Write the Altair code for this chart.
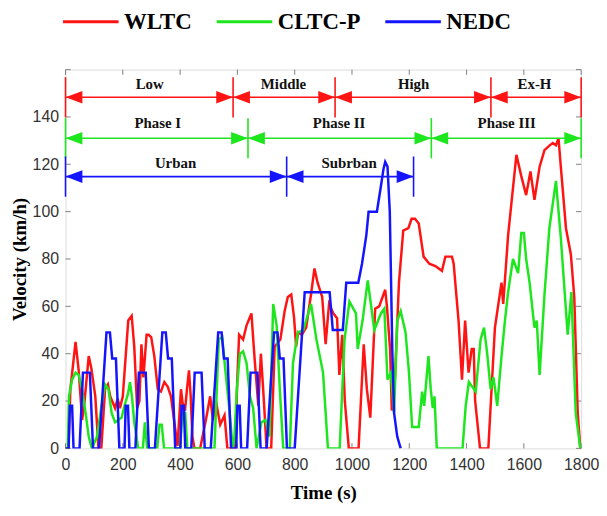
import altair as alt
import pandas as pd

# ---------------- data ----------------
wltc_t = [0, 10, 17, 35, 46, 58, 65, 81, 90, 104, 115, 125, 138, 148, 156, 173, 182, 190, 200,
          219, 231, 240, 250, 258, 265, 272, 283, 290, 299, 310, 322, 333, 345, 357, 368, 380,
          391, 403, 409, 417, 424, 431, 437, 443, 450, 470, 490, 505, 515, 525, 540, 555, 565,
          592, 600, 606, 620, 632, 649, 660, 673, 682, 690, 702, 718, 730, 750, 765, 776, 788,
          798, 805, 812, 825, 840, 857, 869, 880, 896, 908, 920, 935, 948, 956, 966, 975, 989,
          1023, 1041, 1052, 1064, 1081, 1095, 1104, 1116, 1122, 1133, 1139, 1150, 1164, 1179,
          1197, 1208, 1220, 1233, 1250, 1270, 1291, 1314, 1326, 1349, 1355, 1372, 1384, 1395,
          1407, 1418, 1425, 1430, 1447, 1476, 1499, 1522, 1528, 1545, 1574, 1591, 1608, 1623,
          1637, 1655, 1672, 1690, 1701, 1712, 1721, 1729, 1747, 1764, 1776, 1788, 1797]
wltc_v = [0, 0, 25, 45, 33, 12, 18, 39, 34, 22, 0, 0, 25, 27, 22, 17, 21, 17, 22,
          54, 56, 43, 17, 20, 44, 30, 48, 48, 47, 39, 25, 24, 28, 26, 22, 11,
          1, 25, 19, 16, 25, 33, 22, 5, 0, 0, 12, 22, 12, 20, 10, 14, 0,
          0, 30, 48, 46, 52, 57, 38, 18, 40, 25, 0, 0, 43, 46, 58, 64, 65,
          55, 43, 49, 48, 51, 65, 76, 70, 64, 44, 61, 57, 55, 31, 48, 20, 0,
          0, 44, 25, 13, 59, 60, 63, 67, 60, 42, 16, 30, 70, 92,
          93, 97, 97, 95, 81, 78, 77, 75, 81, 81, 78, 54, 29, 54,
          32, 42, 42, 20, 0, 0, 51, 70, 61, 90, 124, 115, 107, 117,
          105, 119, 126, 128, 129, 128, 131, 119, 93, 82, 64, 15, 0]

cltc_t = [0, 8, 12, 23, 35, 46, 58, 70, 81, 92, 110, 127, 138, 150, 161, 173, 184, 196, 206,
          218, 225, 232, 240, 254, 270, 277, 285, 320, 328, 336, 344, 400, 408, 418, 425, 520,
          535, 547, 558, 570, 584, 590, 598, 609, 620, 632, 644, 655, 667, 684, 698, 712, 725,
          737, 748, 760, 783, 794, 811, 830, 857, 876, 899, 916, 957, 974, 991, 1014, 1020,
          1037, 1055, 1066, 1078, 1101, 1113, 1124, 1136, 1147, 1158, 1170, 1187, 1199, 1210,
          1233, 1245, 1252, 1267, 1275, 1282, 1288, 1296, 1386, 1397, 1408, 1420, 1432, 1449,
          1461, 1472, 1484, 1494, 1507, 1522, 1534, 1545, 1562, 1580, 1591, 1600, 1608, 1620,
          1637, 1645, 1655, 1672, 1689, 1712, 1729, 1753, 1766, 1781, 1797]
cltc_v = [0, 0, 22, 29, 32, 31, 25, 15, 5, 0, 5, 19, 27, 25, 15, 11, 12, 13, 18,
          23, 28, 22, 11, 0, 0, 11, 0, 0, 10, 10, 0, 0, 15, 15, 0, 0,
          46, 47, 33, 19, 0, 5, 25, 40, 41, 36, 22, 17, 0, 11, 12, 5, 61,
          52, 25, 0, 0, 36, 49, 50, 61, 46, 32, 0, 0, 46, 62, 57, 42,
          54, 71, 61, 50, 57, 59, 29, 32, 15, 54, 58, 49, 32, 9,
          9, 24, 18, 39, 25, 17, 22, 0, 0, 18, 28, 26, 24, 46,
          51, 40, 25, 30, 18, 39, 54, 66, 80, 74, 91, 91, 80, 70,
          51, 54, 31, 65, 93, 113, 89, 48, 66, 15, 0]

nedc_t = [0, 11, 15, 23, 28, 49, 61, 85, 96, 117, 143, 155, 163, 176, 188, 195,
          206, 210, 218, 223, 244, 256, 280, 291, 312, 338, 350, 358, 371, 383, 390,
          401, 405, 413, 418, 439, 451, 475, 486, 507, 533, 545, 553, 566, 578, 585,
          596, 600, 608, 613, 634, 646, 670, 681, 702, 728, 740, 748, 761, 773, 780,
          800, 835, 922, 933, 968, 980, 1022, 1035, 1050, 1058, 1087, 1100, 1110, 1116,
          1124, 1132, 1141, 1147, 1158, 1170]
nedc_v = [0, 0, 18, 18, 0, 0, 32, 32, 0, 0, 49, 49, 38, 38, 0, 0,
          0, 18, 18, 0, 0, 32, 32, 0, 0, 49, 49, 38, 38, 0, 0,
          0, 18, 18, 0, 0, 32, 32, 0, 0, 49, 49, 38, 38, 0, 0,
          0, 18, 18, 0, 0, 32, 32, 0, 0, 49, 49, 38, 38, 0, 0,
          0, 66, 66, 50, 50, 70, 70, 78, 90, 100, 100, 110, 118, 121,
          119, 100, 40, 15, 5, 0]

series_names = ["WLTC", "CLTC-P", "NEDC"]
series_colors = ["#ff1414", "#1ee61e", "#1414ff"]

x_ticks = [0, 200, 400, 600, 800, 1000, 1200, 1400, 1600, 1800]
y_ticks = [0, 20, 40, 60, 80, 100, 120, 140]
y_frame_ticks = [0, 20, 40, 60, 80, 100, 120, 140, 160]

# phase annotations
ann_rows = {"WLTC": 148.3, "CLTC-P": 131.0, "NEDC": 114.8}
ann_bounds = {"WLTC": [0, 585, 941, 1485, 1800],
              "CLTC-P": [0, 637, 1277, 1800],
              "NEDC": [0, 772, 1215]}
ann_labels = ["Low", "Middle", "High", "Ex-H", "Phase I", "Phase II", "Phase III", "Urban", "Subrban"]
ann_label_t = [294, 761, 1215, 1637, 322, 955, 1540, 384, 990]
ann_label_v = [154, 154, 154, 154, 137.4, 137.4, 137.4, 120.6, 120.6]

# ---------------- tables ----------------
lines = pd.concat([
    pd.DataFrame({"t": wltc_t, "v": wltc_v, "series": "WLTC"}),
    pd.DataFrame({"t": cltc_t, "v": cltc_v, "series": "CLTC-P"}),
    pd.DataFrame({"t": nedc_t, "v": nedc_v, "series": "NEDC"}),
], ignore_index=True)

col_of = dict(zip(series_names, series_colors))
span_rows, head_rows, div_rows = [], [], []
for s, b in ann_bounds.items():
    r = ann_rows[s]
    for a, e in zip(b[:-1], b[1:]):
        span_rows.append({"t": a, "t2": e, "v": r, "col": col_of[s]})
        head_rows.append({"t": a, "v": r, "col": col_of[s], "dir": "L"})
        head_rows.append({"t": e, "v": r, "col": col_of[s], "dir": "R"})
    for d in b:
        div_rows.append({"t": d, "v": r - 8.5, "v2": r + 8.5, "col": col_of[s]})
spans = pd.DataFrame(span_rows)
heads = pd.DataFrame(head_rows)
divs = pd.DataFrame(div_rows)
labels = pd.DataFrame({"t": ann_label_t, "v": ann_label_v, "text": ann_labels})

xs = alt.Scale(domain=[0, 1800], nice=False, zero=False)
ys = alt.Scale(domain=[0, 160], nice=False)

x_axis = alt.Axis(values=x_ticks, format="d", title="Time (s)", ticks=False, domain=False, grid=False,
                  labelFont="Liberation Sans", labelFontSize=16, labelColor="#333333",
                  labelPadding=8, labelFlush=False,
                  titleFont="Liberation Serif", titleFontWeight="bold", titleFontSize=19,
                  titleColor="black", titlePadding=12)
y_axis = alt.Axis(values=y_ticks, format="d", title="Velocity (km/h)", ticks=False, domain=False, grid=False,
                  labelFont="Liberation Sans", labelFontSize=16, labelColor="#333333",
                  labelPadding=7, labelFlush=False,
                  titleFont="Liberation Serif", titleFontWeight="bold", titleFontSize=19,
                  titleColor="black", titlePadding=3)

color = alt.Color("series:N", sort=series_names,
                  scale=alt.Scale(domain=series_names, range=series_colors),
                  legend=alt.Legend(title=None, orient="none", direction="horizontal",
                                    legendX=-4, legendY=-78, padding=0,
                                    symbolType="stroke", symbolSize=3136, symbolStrokeWidth=3,
                                    labelFont="Liberation Serif", labelFontWeight="bold",
                                    labelFontSize=23, labelColor="black", labelOffset=4,
                                    columnPadding=18))

base_lines = alt.Chart(lines)
line_layers = [
    base_lines.transform_filter(alt.datum.series == s).mark_line(strokeWidth=2.5, clip=True).encode(
        x=alt.X("t:Q", scale=xs, axis=x_axis),
        y=alt.Y("v:Q", scale=ys, axis=y_axis),
        color=color,
        order=alt.Order("t:Q"),
    )
    for s in series_names
]

span_layer = alt.Chart(spans).mark_rule(strokeWidth=1.6).encode(
    x="t:Q", x2="t2:Q", y="v:Q", color=alt.Color("col:N", scale=None))
div_layer = alt.Chart(divs).mark_rule(strokeWidth=1.6).encode(
    x="t:Q", y="v:Q", y2="v2:Q", color=alt.Color("col:N", scale=None))
head_L = alt.Chart(heads).transform_filter(alt.datum.dir == "L").mark_point(
    shape="M 0 0 L 2 -0.75 L 2 0.75 Z", filled=True, size=289, opacity=1, strokeWidth=0).encode(
    x="t:Q", y="v:Q", color=alt.Color("col:N", scale=None))
head_R = alt.Chart(heads).transform_filter(alt.datum.dir == "R").mark_point(
    shape="M 0 0 L -2 -0.75 L -2 0.75 Z", filled=True, size=289, opacity=1, strokeWidth=0).encode(
    x="t:Q", y="v:Q", color=alt.Color("col:N", scale=None))
label_layer = alt.Chart(labels).mark_text(font="Liberation Serif", fontWeight="bold",
                                          fontSize=15, color="#111111").encode(
    x="t:Q", y="v:Q", text="text:N")

# inward frame ticks
tx = pd.DataFrame({"t": x_ticks})
ty = pd.DataFrame({"v": y_frame_ticks})
tick_col = "#7f7f7f"
tick_bottom = alt.Chart(tx).mark_rule(color=tick_col, strokeWidth=1).encode(
    x="t:Q", y=alt.datum(0), y2=alt.datum(2.2))
tick_top = alt.Chart(tx).mark_rule(color=tick_col, strokeWidth=1).encode(
    x="t:Q", y=alt.datum(160), y2=alt.datum(157.8))
tick_left = alt.Chart(ty).mark_rule(color=tick_col, strokeWidth=1).encode(
    y="v:Q", x=alt.datum(0), x2=alt.datum(18))
tick_right = alt.Chart(ty).mark_rule(color=tick_col, strokeWidth=1).encode(
    y="v:Q", x=alt.datum(1800), x2=alt.datum(1782))

chart = alt.layer(
    tick_bottom, tick_top, tick_left, tick_right,
    *line_layers,
    span_layer, div_layer, head_L, head_R, label_layer,
).properties(
    width=520, height=382,
    padding={"left": 58, "top": 60, "right": 18, "bottom": 58},
    autosize=alt.AutoSizeParams(type="none"),
).configure_view(stroke="#7f7f7f", strokeWidth=1.2).configure(background="white")

chart.save("out.html", embed_options={"renderer": "svg", "actions": False})
